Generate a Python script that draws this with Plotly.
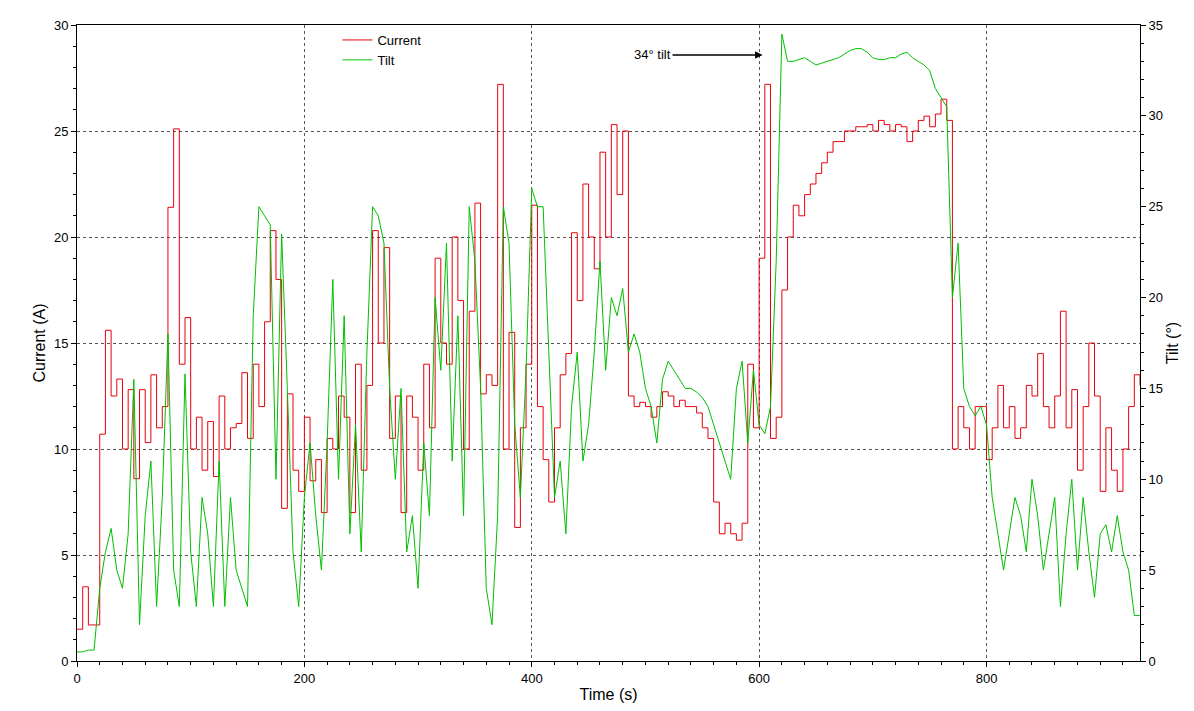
import plotly.graph_objects as go

# sampled every 5 s
time_s = list(range(0, 940, 5))

current_a = [1.5, 3.5, 1.7, 1.7, 10.7, 15.6, 12.5, 13.3, 10, 12.8, 8.6, 12.8, 10.3, 13.5, 11, 12, 21.4, 25.1, 14, 16.2,
             10, 11.5, 9, 11.3, 8.7, 12.5, 10, 11, 11.2, 13.6, 10.5, 14, 12, 16, 20.3, 18, 7.2, 12.6, 9, 8,
             11.5, 8.5, 9.5, 7, 10.5, 10, 12.5, 11.5, 7, 14, 9, 13, 20.3, 15, 19.5, 10.5, 12.5, 7, 12.5, 11.5,
             9, 14, 11, 19, 15, 14, 20, 17, 10, 16.5, 21.6, 12.6, 13.5, 13, 27.2, 10, 15.5, 6.3, 11, 14,
             21.5, 12, 9.5, 7.5, 11, 13.5, 14.5, 20.2, 17, 22.5, 20, 18.5, 24, 20, 25.3, 22, 25, 12.5, 12, 12.2,
             12, 11.5, 12, 12.7, 12.5, 12, 12.3, 12, 12, 11.7, 11, 10.5, 7.5, 6, 6.5, 6, 5.7, 6.5, 14, 11,
             19, 27.2, 10.5, 11.5, 17.5, 20, 21.5, 21, 22, 22.5, 23, 23.5, 24, 24.5, 24.5, 25, 25, 25.2, 25.2, 25.3,
             25, 25.5, 25.3, 25, 25.3, 25.2, 24.5, 25, 25.5, 25.7, 25.2, 25.8, 26.5, 25.5, 10, 12, 11, 10, 12, 12,
             9.5, 11, 13, 11, 12, 10.5, 11, 13, 12.5, 14.5, 12, 11, 12.5, 16.5, 11, 12.8, 9, 12, 15, 12.5,
             8, 11, 9, 8, 10, 12, 13.5, 13]

tilt_deg = [0.5, 0.5, 0.6, 0.6, 4, 6, 7.3, 5, 4, 7, 15.5, 2, 8, 11, 3, 9, 18, 5, 3, 15.8,
            6, 3, 9, 7, 3, 11, 3, 9, 5, 4, 3, 19, 25, 24.5, 24, 10, 23.5, 15, 6, 3,
            9, 12, 8, 5, 12, 21, 10, 19, 7, 13, 6, 17, 25, 24.5, 23, 15, 10, 15, 6, 8,
            4, 12, 8, 20, 16, 23, 11, 19, 8, 25, 22, 15, 4, 2, 8, 25, 23, 13, 9, 16,
            26, 25, 25, 17, 9, 11, 7, 14, 17, 11, 13, 17, 22, 16, 20, 19, 20.5, 17, 18, 17,
            15, 14, 12, 15.5, 16.5, 16, 15.5, 15, 15, 14.8, 14.5, 14, 13, 12, 11, 10, 15, 16.5, 12, 16,
            13, 12.5, 14, 22, 34.5, 33, 33, 33.1, 33.2, 33, 32.8, 32.9, 33, 33.1, 33.2, 33.4, 33.6, 33.7, 33.7, 33.5,
            33.2, 33.1, 33.1, 33.2, 33.2, 33.4, 33.5, 33.2, 33, 32.8, 32.5, 31.5, 31, 30.5, 20, 23, 15, 14, 13.5, 14,
            13, 9, 7, 5, 7, 9, 8, 6, 10, 8, 5, 7, 9, 3, 7, 10, 5, 9, 6, 3.5,
            7, 7.5, 6, 8, 6, 5, 2.5, 2.5]

font = dict(family="Liberation Sans, Arial", size=13, color="black")
axis_style = dict(showline=True, linecolor="black", ticks="outside", ticklen=5,
                  tickcolor="black", zeroline=False, automargin=False)
grid = dict(showgrid=True, gridcolor="#555", griddash="dot", gridwidth=0.5)

fig = go.Figure()
fig.add_trace(go.Scatter(x=time_s, y=current_a, name="Current", mode="lines", line_shape="hv",
                         line=dict(color="#e8000b", width=1)))
fig.add_trace(go.Scatter(x=time_s, y=tilt_deg, name="Tilt", mode="lines", yaxis="y2",
                         line=dict(color="#00c000", width=1)))

fig.update_layout(
    width=1194, height=711, font=font,
    plot_bgcolor="white", paper_bgcolor="white",
    margin=dict(l=69, r=62, t=17, b=58, autoexpand=False),
    xaxis=dict(axis_style, **grid, range=[0, 935], dtick=200, mirror=True,
               title=dict(text="Time (s)", standoff=4),
               minor=dict(dtick=20, ticks="outside", ticklen=3, tickcolor="black")),
    yaxis=dict(axis_style, **grid, range=[0, 30], dtick=5,
               title=dict(text="Current (A)", standoff=4),
               minor=dict(dtick=1, ticks="outside", ticklen=3, tickcolor="black")),
    yaxis2=dict(axis_style, range=[0, 35], dtick=5, overlaying="y", side="right", showgrid=False,
                title=dict(text="Tilt (°)", standoff=4),
                minor=dict(dtick=1, ticks="outside", ticklen=3, tickcolor="black")),
    legend=dict(x=0.245, y=1.0, xanchor="left", yanchor="top", bgcolor="rgba(0,0,0,0)",
                font=dict(size=13), tracegroupgap=0),
    annotations=[dict(x=603, y=33.35, xref="x", yref="y2", ax=-90, ay=0, text="34° tilt",
                      showarrow=True, arrowhead=2, arrowwidth=1.5, arrowcolor="black",
                      xanchor="right", font=dict(size=13))],
)

fig.write_html("out.html")
